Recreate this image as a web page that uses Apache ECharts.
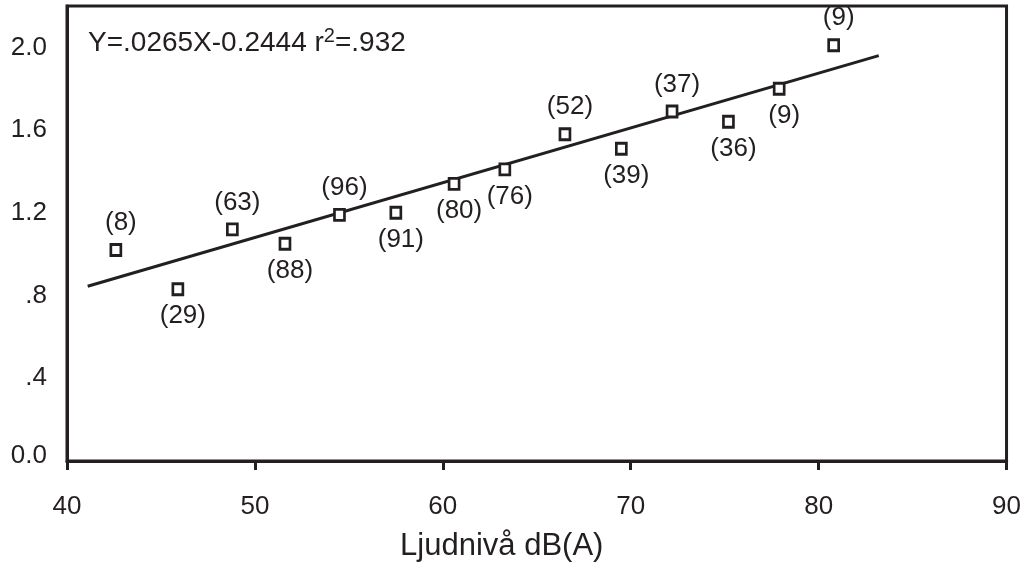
<!DOCTYPE html>
<html>
<head>
<meta charset="utf-8">
<title>Ljudnivå dB(A)</title>
<script src="https://cdn.jsdelivr.net/npm/echarts@6/dist/echarts.min.js"></script>
<style>
  html, body { margin: 0; padding: 0; background: #fff; }
  #chart { width: 1024px; height: 567px; }
</style>
</head>
<body>
<div id="chart"></div>
<script>
// ljudnivå (x), uppmätt värde (y) och antal (n) per punkt
var soundLevel = [42.6, 45.9, 48.8, 51.6, 54.5, 57.5, 60.6, 63.3, 66.5, 69.5, 72.2, 75.2, 77.9, 80.8];
var yValues = [1.02, 0.83, 1.12, 1.05, 1.19, 1.20, 1.34, 1.41, 1.58, 1.51, 1.69, 1.64, 1.80, 2.01];
var counts = [8, 29, 63, 88, 96, 91, 80, 76, 52, 39, 37, 36, 9, 9];

// regressionslinjens ändpunkter
var lineX = [41.1, 83.2];
var lineY = [0.845, 1.96];

// axelns tickar
var xTicks = ['40', '50', '60', '70', '80', '90'];
var yTickLabels = ['0.0', '.4', '.8', '1.2', '1.6', '2.0'];

var equation = 'Y=.0265X-0.2444 r{sup|2}=.932';
var xTitle = 'Ljudnivå dB(A)';

// var etiketten hamnar (ovanför/under punkten)
var labelSide = ['top', 'bottom', 'top', 'bottom', 'top', 'bottom', 'bottom',
                 'bottom', 'top', 'bottom', 'top', 'bottom', 'bottom', 'top'];

var font = '"Liberation Sans", Arial, Helvetica, sans-serif';
var ink = '#231f20';

var scatterData = [];
for (var i = 0; i < soundLevel.length; i++) {
    scatterData.push({
        value: [soundLevel[i], yValues[i], counts[i]],
        label: { position: labelSide[i] }
    });
}
var lineData = [];
for (var j = 0; j < lineX.length; j++) {
    lineData.push([lineX[j], lineY[j]]);
}

var chart = echarts.init(document.getElementById('chart'));
var option = {
    animation: false,
    backgroundColor: '#fff',
    grid: {
        left: 67,
        right: 14,
        top: 6,
        bottom: 94,
        show: true,
        borderColor: ink,
        borderWidth: 3
    },
    graphic: [{
        type: 'text',
        left: 88,
        top: 26,
        style: {
            text: equation,
            fill: ink,
            font: '28px ' + font,
            rich: {
                sup: {
                    fontSize: 20,
                    fontFamily: font,
                    fill: ink,
                    verticalAlign: 'top',
                    padding: [0, 0, 14, 0]
                }
            }
        }
    }],
    xAxis: {
        type: 'value',
        min: 40,
        max: 90,
        interval: 10,
        name: xTitle,
        nameLocation: 'middle',
        nameGap: 70,
        nameTextStyle: {
            fontFamily: font,
            fontSize: 31,
            color: ink,
            padding: [0, 70, 0, 0]
        },
        splitLine: { show: false },
        axisLine: { lineStyle: { color: ink, width: 3 } },
        axisTick: { show: true, length: 9, lineStyle: { color: ink, width: 3 } },
        axisLabel: {
            margin: 33,
            fontFamily: font,
            fontSize: 26,
            color: ink,
            formatter: function (v) {
                var k = Math.round((v - 40) / 10);
                return xTicks[k] || '';
            }
        }
    },
    yAxis: {
        type: 'value',
        min: 0,
        max: 2.2,
        interval: 0.4,
        splitLine: { show: false },
        axisTick: { show: false },
        axisLine: { show: true, lineStyle: { color: ink, width: 3 } },
        axisLabel: {
            margin: 20,
            fontFamily: font,
            fontSize: 26,
            color: ink,
            formatter: function (v) {
                var k = Math.round(v / 0.4);
                if (Math.abs(v - k * 0.4) > 1e-6) return '';
                if (k === 0) return '{z|' + yTickLabels[0] + '}';
                return yTickLabels[k] || '';
            },
            rich: {
                z: {
                    fontFamily: font,
                    fontSize: 26,
                    color: ink,
                    padding: [0, 0, 10, 0]
                }
            }
        }
    },
    series: [{
        type: 'line',
        data: lineData,
        symbol: 'none',
        silent: true,
        lineStyle: { color: ink, width: 3 },
        z: 2
    }, {
        type: 'scatter',
        data: scatterData,
        symbol: 'rect',
        symbolSize: [10, 11],
        itemStyle: {
            color: '#fff',
            borderColor: ink,
            borderWidth: 2.8,
            opacity: 1
        },
        label: {
            show: true,
            distance: 7,
            offset: [5, 0],
            fontFamily: font,
            fontSize: 26,
            color: ink,
            formatter: function (p) {
                return '(' + p.value[2] + ')';
            }
        },
        z: 3
    }]
};
chart.setOption(option);
</script>
</body>
</html>
